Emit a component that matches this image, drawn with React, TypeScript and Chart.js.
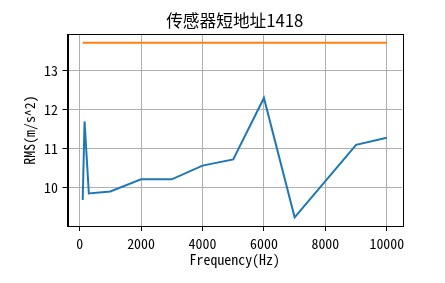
import React, { useEffect, useRef } from "react";
import { Chart, registerables } from "chart.js";

Chart.register(...registerables);

const freqs = [100, 160, 300, 1000, 2000, 3000, 4000, 5000, 6000, 7000, 9000, 10000];
const rmsValues = [9.69, 11.7, 9.86, 9.91, 10.22, 10.22, 10.57, 10.73, 12.3, 9.25, 11.1, 11.28];
const limitValues = [13.71, 13.71, 13.71, 13.71, 13.71, 13.71, 13.71, 13.71, 13.71, 13.71, 13.71, 13.71];
const xTicks = [0, 2000, 4000, 6000, 8000, 10000];
const yTicks = [10, 11, 12, 13];
const titleText = "传感器短地址1418";
const xLabel = "Frequency(Hz)";
const yLabel = "RMS(m/s^2)";

const FONT = "'Noto Sans Mono CJK SC', 'Noto Sans CJK SC', sans-serif";

function range(vals: number[]) {
  const lo = Math.min(...vals);
  const hi = Math.max(...vals);
  const m = (hi - lo) * 0.05;
  return [lo - m, hi + m];
}

const framePlugin = {
  id: "frame",
  afterDatasetsDraw(chart: any) {
    const { ctx, chartArea } = chart;
    ctx.save();
    ctx.strokeStyle = "#000";
    ctx.lineWidth = 1;
    ctx.strokeRect(
      Math.round(chartArea.left) + 0.5,
      Math.round(chartArea.top) + 0.5,
      Math.round(chartArea.right - chartArea.left),
      Math.round(chartArea.bottom - chartArea.top)
    );
    ctx.restore();
  },
};

export default function App() {
  const ref = useRef<HTMLCanvasElement | null>(null);

  useEffect(() => {
    document.body.style.margin = "0";
    if (!ref.current) return;
    const [xmin, xmax] = range(freqs);
    const [ymin, ymax] = range([...rmsValues, ...limitValues]);
    const chart = new Chart(ref.current, {
      type: "line",
      data: {
        datasets: [
          {
            data: freqs.map((f, i) => ({ x: f, y: rmsValues[i] })),
            borderColor: "#1f77b4",
            borderWidth: 2,
            pointRadius: 0,
            tension: 0,
            fill: false,
          },
          {
            data: freqs.map((f, i) => ({ x: f, y: limitValues[i] })),
            borderColor: "#ff7f0e",
            borderWidth: 2,
            pointRadius: 0,
            tension: 0,
            fill: false,
          },
        ],
      },
      options: {
        animation: false,
        responsive: false,
        events: [],
        layout: { padding: { left: 0, right: 43, top: 0, bottom: 0 } },
        plugins: {
          legend: { display: false },
          tooltip: { enabled: false },
          title: {
            display: true,
            text: titleText,
            fullSize: false,
            color: "#000",
            font: { family: "'Noto Sans CJK SC', sans-serif", size: 16.7, weight: "normal", lineHeight: 1.2 },
            padding: { top: 10.5, bottom: 3.5 },
          },
        },
        scales: {
          x: {
            type: "linear",
            min: xmin,
            max: xmax,
            afterBuildTicks: (s: any) => {
              s.ticks = xTicks.map((v) => ({ value: v }));
            },
            afterFit: (s: any) => {
              s.height = 57;
            },
            grid: { color: "#b0b0b0", lineWidth: 1, tickColor: "#000", tickLength: 5, drawTicks: true },
            border: { display: true, color: "#000", width: 1 },
            ticks: {
              color: "#000",
              padding: 4,
              maxRotation: 0,
              autoSkip: false,
              font: { family: FONT, size: 13.9 },
              callback: (v: any) => String(v),
            },
            title: {
              display: true,
              text: xLabel,
              color: "#000",
              font: { family: FONT, size: 13.9, lineHeight: 1.2 },
              padding: { top: 0, bottom: 14.5 },
            },
          },
          y: {
            type: "linear",
            min: ymin,
            max: ymax,
            afterBuildTicks: (s: any) => {
              s.ticks = yTicks.map((v) => ({ value: v }));
            },
            afterFit: (s: any) => {
              s.width = 67.5;
            },
            grid: { color: "#b0b0b0", lineWidth: 1, tickColor: "#000", tickLength: 5, drawTicks: true },
            border: { display: true, color: "#000", width: 1 },
            ticks: {
              color: "#000",
              padding: 4.5,
              autoSkip: false,
              font: { family: FONT, size: 13.9 },
              callback: (v: any) => String(v),
            },
            title: {
              display: true,
              text: yLabel,
              color: "#000",
              font: { family: FONT, size: 13.9, lineHeight: 1.2 },
              padding: { top: 21.5, bottom: 0 },
            },
          },
        },
      } as any,
      plugins: [framePlugin],
    });
    return () => chart.destroy();
  }, []);

  return (
    <div style={{ position: "absolute", left: 0, top: 0, width: 445, height: 283, background: "#fff" }}>
      <canvas ref={ref} width={445} height={283} />
    </div>
  );
}
